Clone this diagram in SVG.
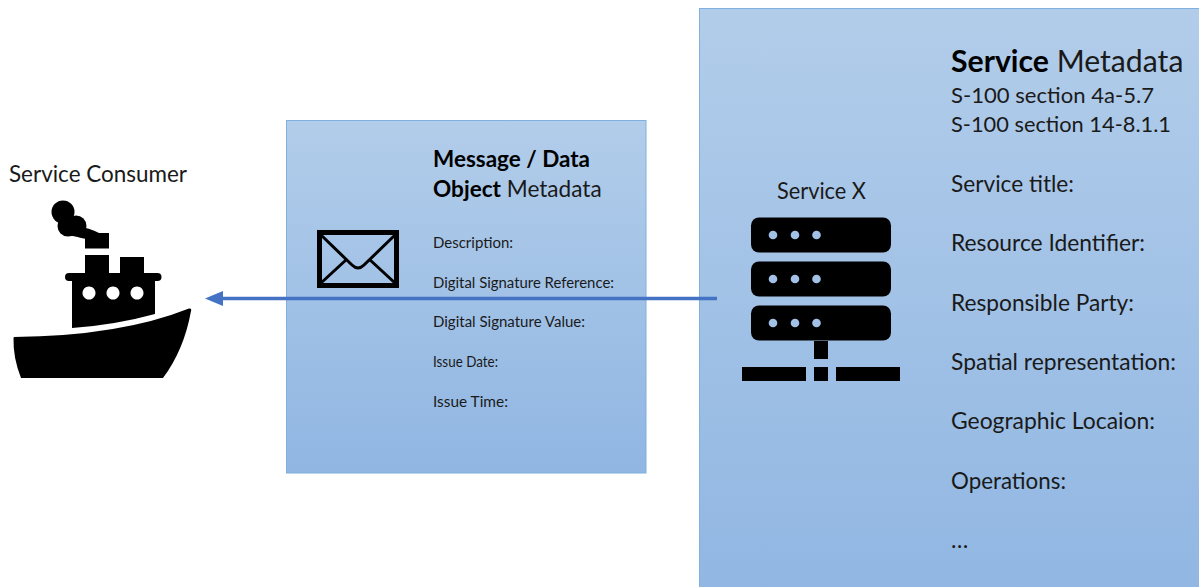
<svg xmlns="http://www.w3.org/2000/svg" width="1199" height="587" viewBox="0 0 1199 587">
<style>
text{font-family:"Lato","Carlito","Liberation Sans",sans-serif;fill:#1a1a1a}
.s{font-size:14.500px}.m{font-size:21px}.b{font-size:22.600px}.h{font-size:30.200px}.l{font-size:23px}
.bold{font-weight:700;fill:#000}
.panel{fill:url(#g);stroke:#7fb0e0;stroke-width:1}
.dot{fill:#a3c1e6}
</style>
<defs>
<linearGradient id="g" x1="0" y1="0" x2="0" y2="1"><stop offset="0" stop-color="#b2cdea"/><stop offset="1" stop-color="#90b6e2"/></linearGradient>
<marker id="ah" markerUnits="userSpaceOnUse" markerWidth="18" markerHeight="18" refX="1" refY="9" orient="auto-start-reverse"><path d="M18 9L0 1.5V16.500Z" fill="#4472c4"/></marker>
<g id="rack"><rect x="751" y="217.500" width="140" height="35" rx="8" fill="#000"/><circle class="dot" cx="773" cy="235" r="4.300"/><circle class="dot" cx="795" cy="235" r="4.300"/><circle class="dot" cx="816.500" cy="235" r="4.300"/></g>
</defs>
<g id="service-panel">
<rect class="panel" x="699.500" y="8.500" width="520" height="600"/>
<text x="951" y="71.500" class="h"><tspan class="bold">Service</tspan> Metadata</text>
<text x="951" y="102.500" class="m" textLength="203" lengthAdjust="spacingAndGlyphs">S-100 section 4a-5.7</text>
<text x="951" y="131.500" class="m" textLength="220" lengthAdjust="spacingAndGlyphs">S-100 section 14-8.1.1</text>
<text x="951" y="191.500" class="l" textLength="123" lengthAdjust="spacingAndGlyphs">Service title:</text>
<text x="951" y="250.500" class="l" textLength="194" lengthAdjust="spacingAndGlyphs">Resource Identifier:</text>
<text x="951" y="310.500" class="l" textLength="183" lengthAdjust="spacingAndGlyphs">Responsible Party:</text>
<text x="951" y="369.500" class="l" textLength="225" lengthAdjust="spacingAndGlyphs">Spatial representation:</text>
<text x="951" y="428.500" class="l" textLength="204" lengthAdjust="spacingAndGlyphs">Geographic Locaion:</text>
<text x="951" y="488.500" class="l" textLength="115" lengthAdjust="spacingAndGlyphs">Operations:</text>
<text x="951" y="548" class="l">…</text>
<text x="777" y="198.500" class="l" textLength="89" lengthAdjust="spacingAndGlyphs">Service X</text>
</g>
<g id="server">
<use href="#rack"/><use href="#rack" y="44"/><use href="#rack" y="88"/>
<rect x="814" y="341" width="14" height="18"/>
<rect x="742" y="367" width="64" height="14"/><rect x="814" y="367" width="14" height="14"/><rect x="836" y="367" width="64" height="14"/>
</g>
<g id="message-panel">
<rect class="panel" x="286.500" y="120.500" width="359.500" height="352.500"/>
<text x="433" y="166.500" class="b bold" textLength="157" lengthAdjust="spacingAndGlyphs">Message / Data</text>
<text x="433" y="196.500" class="b"><tspan class="bold">Object</tspan> Metadata</text>
<text x="433" y="247.500" class="s" textLength="80" lengthAdjust="spacingAndGlyphs">Description:</text>
<text x="433" y="287.500" class="s" textLength="181" lengthAdjust="spacingAndGlyphs">Digital Signature Reference:</text>
<text x="433" y="326.500" class="s" textLength="152" lengthAdjust="spacingAndGlyphs">Digital Signature Value:</text>
<text x="433" y="366.500" class="s" textLength="65" lengthAdjust="spacingAndGlyphs">Issue Date:</text>
<text x="433" y="406.500" class="s" textLength="75" lengthAdjust="spacingAndGlyphs">Issue Time:</text>
</g>
<g id="envelope" fill="none" stroke="#000">
<rect x="319.500" y="232.500" width="77" height="53" stroke-width="5"/>
<path d="M321 235L352 265Q358 271 364 265L395 235M321 283L347 259M395 283L369 259" stroke-width="3"/>
</g>
<g id="consumer">
<text x="9" y="181.500" class="l" textLength="178" lengthAdjust="spacingAndGlyphs">Service Consumer</text>
<circle cx="63" cy="212" r="11.500"/><circle cx="76" cy="226" r="10.500"/><circle cx="68" cy="226" r="10.500"/>
<path d="M76 226Q90 228 99 233L90 239Q80 239 70 234Z"/>
<rect x="85" y="233" width="24" height="15.500"/>
<rect x="85" y="255" width="24" height="20"/><rect x="120" y="257" width="24" height="18"/>
<rect x="65" y="273" width="96.500" height="8" rx="4"/>
<path fill-rule="evenodd" d="M72 280H155V314Q115 325 72 328ZM89 286.500a6.500 6.500 0 1 0 .01 0ZM113 286.500a6.500 6.500 0 1 0 .01 0ZM137 286.500a6.500 6.500 0 1 0 .01 0Z"/>
<path d="M14 337Q120 336 189 308.500Q192 308 191 311Q184 350 163 378H21Q13 358 13.500 338Z"/>
</g>
<g id="connectors">
<line x1="717" y1="298.500" x2="222" y2="298.500" stroke="#4472c4" stroke-width="3.500" marker-end="url(#ah)"/>
</g>
</svg>
